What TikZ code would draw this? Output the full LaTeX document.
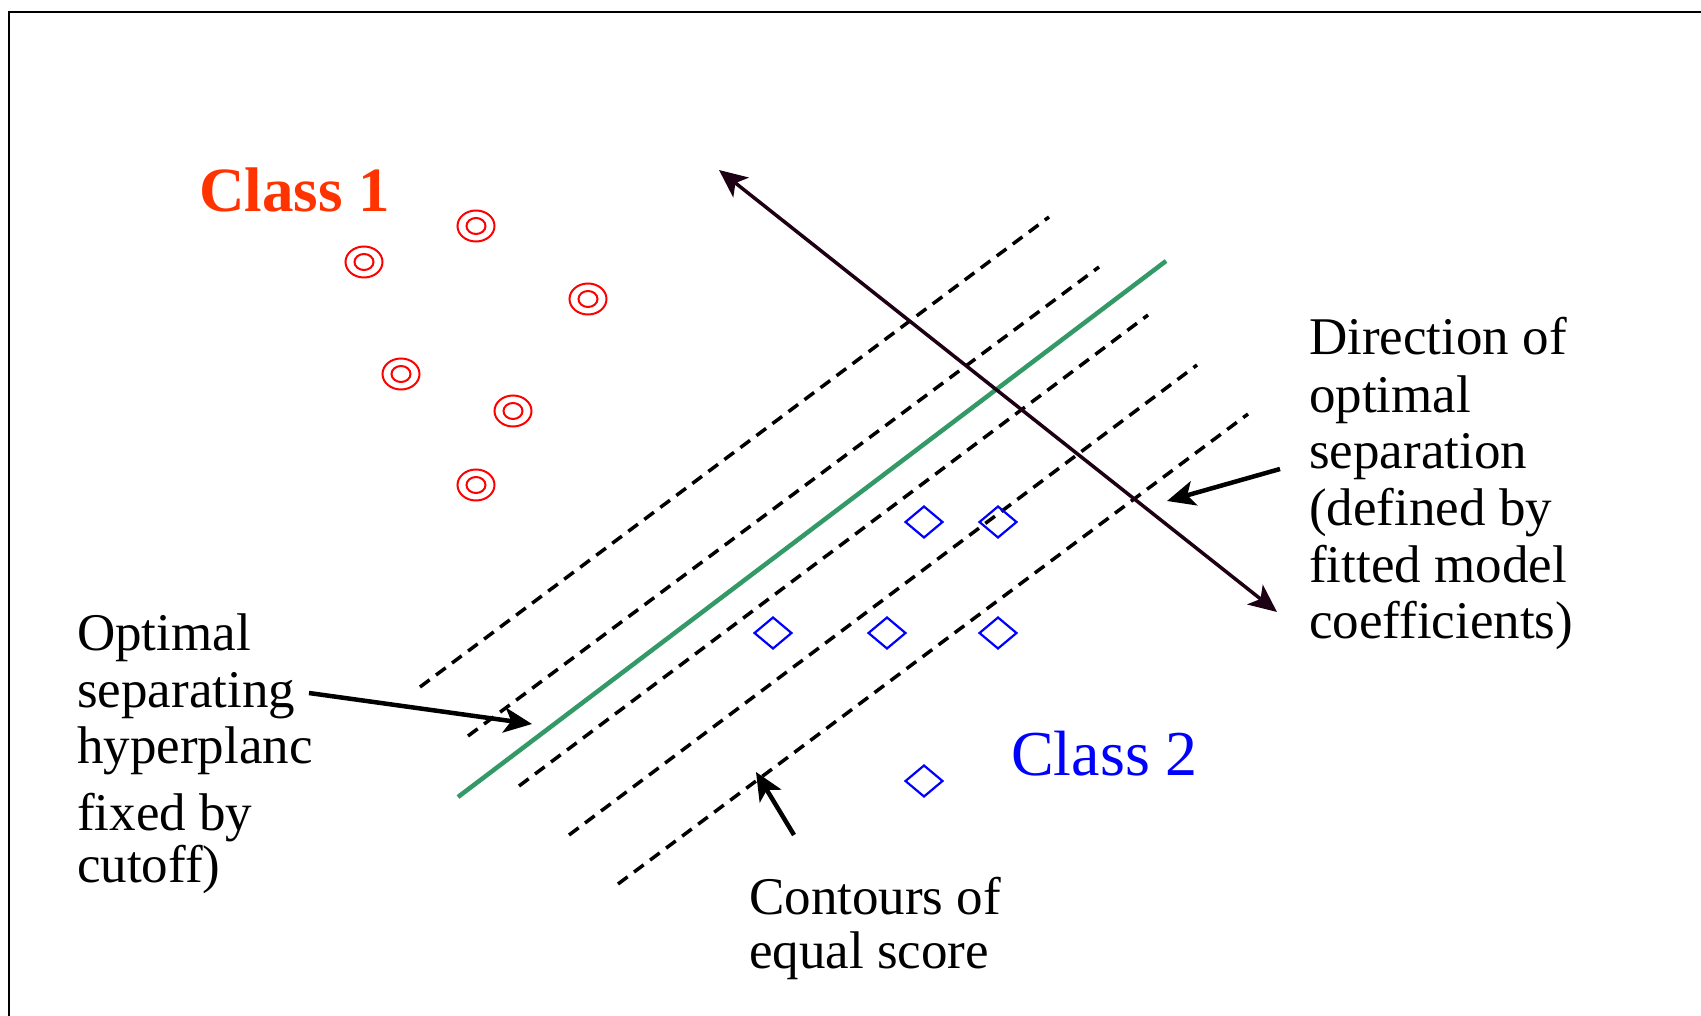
\documentclass[tikz,border=0pt]{standalone}
\usepackage{fontspec}
\setmainfont{Liberation Serif}
\usetikzlibrary{arrows.meta}
\definecolor{classone}{RGB}{255,51,0}
\definecolor{ptred}{RGB}{255,0,0}
\definecolor{ptblue}{RGB}{0,0,255}
\definecolor{hypgreen}{RGB}{51,153,102}
\definecolor{dirline}{RGB}{30,0,20}
\begin{document}
\begin{tikzpicture}[x=1pt,y=-1pt,
  lbl/.style={anchor=base west, inner sep=0pt, font=\fontsize{53}{56}\selectfont},
  contour/.style={black, line width=3.5pt, dash pattern=on 12pt off 8pt},
  hyper/.style={hypgreen, line width=4.5pt},
  bigtip/.style={Stealth[length=28pt,width=25pt,inset=7pt]},
  callout/.style={black, line width=4.5pt, -{Stealth[length=28pt,width=25pt,inset=7pt]}},
  circpt/.style={ptred, line width=2pt},
  diapt/.style={ptblue, line width=2.2pt}]
\useasboundingbox (0,0) rectangle (1701,1016);
\fill[white] (0,0) rectangle (1701,1016);
% frame
\draw[line width=2pt] (9,1016) -- (9,12) -- (1701,12);

% class labels
\node[anchor=base west, inner sep=0pt, text=classone, font=\fontsize{63}{66}\selectfont\bfseries] (cls1) at (199,212) {Class 1};
\node[anchor=base west, inner sep=0pt, text=ptblue, font=\fontsize{64}{68}\selectfont] (cls2) at (1011,775) {Class 2};

% contour lines
\draw[contour] (420,687) -- (1049,217);
\draw[contour] (468,736) -- (1099,267);
\draw[contour] (519,786) -- (1148,315);
\draw[contour] (569,835) -- (1197,365);
\draw[contour] (618,884) -- (1248,414);
% hyperplane
\draw[hyper] (458,797) -- (1166,261);

% class 1 points
\foreach \px/\py in {476/226, 364/262, 588/299, 401/374, 513/411, 476/485}{
  \draw[circpt] (\px,\py) ellipse[x radius=18.5pt, y radius=15.5pt];
  \draw[circpt] (\px,\py) ellipse[x radius=9.5pt, y radius=8pt];
}
% class 2 points
\foreach \px/\py in {924/522, 998/522, 773/633, 887/633, 998/633, 924/781}{
  \draw[diapt] (\px-18.5,\py) -- (\px,\py-15.5) -- (\px+18.5,\py) -- (\px,\py+15.5) -- cycle;
}

% direction arrow
\coordinate (dirA) at (719,170);
\coordinate (dirB) at (1277,612);
\draw[dirline, line width=3.5pt, {Stealth[length=28pt,width=25pt,inset=7pt]}-{Stealth[length=28pt,width=25pt,inset=7pt]}] (dirA) -- (dirB);

% right text
\node[lbl] (d1) at (1309,355) {Direction of};
\node[lbl] (d2) at (1309,412) {optimal};
\node[lbl] (d3) at (1309,468) {separation};
\node[lbl] (d4) at (1309,525) {(defined by};
\node[lbl] (d5) at (1309,582) {fitted model};
\node[lbl] (d6) at (1309,638) {coefficients)};

% left text
\node[lbl] (o1) at (77,650) {Optimal};
\node[lbl] (o2) at (77,707) {separating};
\node[lbl] (o3) at (77,763) {hyperplanc};
\node[lbl] (o4) at (77,830) {fixed by};
\node[lbl] (o5) at (77,882) {cutoff)};

% bottom text
\node[lbl] (c1) at (749,914) {Contours of};
\node[lbl] (c2) at (749,968) {equal score};

% callout arrows
\coordinate (hypS) at (309,693);
\coordinate (hypT) at (532,724);
\draw[callout] (hypS) -- (hypT);
\coordinate (dirS) at (1280,469);
\coordinate (dirT) at (1167,501);
\draw[callout] (dirS) -- (dirT);
\coordinate (conS) at (794,835);
\coordinate (conT) at (756,772);
\draw[callout] (conS) -- (conT);
\end{tikzpicture}
\end{document}
